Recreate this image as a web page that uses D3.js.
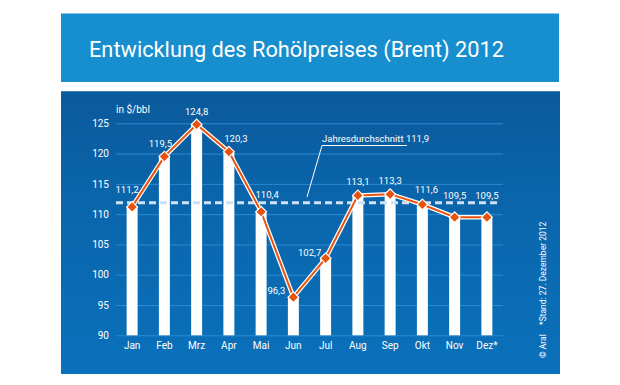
<!DOCTYPE html>
<html>
<head>
<meta charset="utf-8">
<script src="https://cdn.jsdelivr.net/npm/d3@7"></script>
<style>
  body { margin: 0; background: #fff; }
  text { font-family: "Roboto", "Liberation Sans", sans-serif; }
</style>
</head>
<body>
<script>
// chart data
var months = ["Jan", "Feb", "Mrz", "Apr", "Mai", "Jun", "Jul", "Aug", "Sep", "Okt", "Nov", "Dez*"];
var prices = [111.2, 119.5, 124.8, 120.3, 110.4, 96.3, 102.7, 113.1, 113.3, 111.6, 109.5, 109.5];
var yearAverage = 111.9;
var yTicks = [90, 95, 100, 105, 110, 115, 120, 125];

var w = 620, h = 385;

var svg = d3.select("body")
    .append("svg")
    .attr("width", w)
    .attr("height", h);

var defs = svg.append("defs");
var grad = defs.append("linearGradient")
    .attr("id", "panelGrad")
    .attr("x1", 0).attr("y1", 0)
    .attr("x2", 0).attr("y2", 1);
grad.append("stop").attr("offset", "0%").attr("stop-color", "#0b5a9b");
grad.append("stop").attr("offset", "45%").attr("stop-color", "#0a67ad");
grad.append("stop").attr("offset", "100%").attr("stop-color", "#0a71bb");

//title banner
svg.append("rect")
    .attr("x", 61).attr("y", 13)
    .attr("width", 498).attr("height", 69)
    .style("fill", "#178ecd");
svg.append("line")
    .attr("x1", 61).attr("x2", 559)
    .attr("y1", 13.5).attr("y2", 13.5)
    .style("stroke", "#8cc4e6");
svg.append("text")
    .attr("x", 89).attr("y", 57)
    .attr("textLength", 415)
    .attr("lengthAdjust", "spacingAndGlyphs")
    .style("font-size", "22px")
    .style("fill", "#fff")
    .text("Entwicklung des Rohölpreises (Brent) 2012");

//chart panel
svg.append("rect")
    .attr("x", 61).attr("y", 91)
    .attr("width", 499).attr("height", 283)
    .style("fill", "url(#panelGrad)");
svg.append("line")
    .attr("x1", 61).attr("x2", 560)
    .attr("y1", 91.5).attr("y2", 91.5)
    .style("stroke", "#3d84bf");

//scales
var x = d3.scaleBand()
    .domain(months)
    .range([116, 503])
    .paddingInner(0.66)
    .paddingOuter(0.33);

var y = d3.scaleLinear()
    .domain([90, 125])
    .range([335.3, 123.3]);

//gridlines
svg.append("g")
    .selectAll("line")
    .data(yTicks)
    .enter()
    .append("line")
    .attr("x1", 116).attr("x2", 503)
    .attr("y1", function(d){ return y(d) + 0.5; })
    .attr("y2", function(d){ return y(d) + 0.5; })
    .style("stroke", "#2a8ad2")
    .style("stroke-width", 1);

//y axis labels
var yAxis = d3.axisLeft(y).tickValues(yTicks).tickSize(0).tickPadding(0);
var yg = svg.append("g")
    .attr("transform", "translate(109,0)")
    .call(yAxis);
yg.select(".domain").remove();
yg.selectAll("text")
    .style("fill", "#fff")
    .style("font-size", "10px")
    .style("font-family", "Roboto, sans-serif");

svg.append("text")
    .attr("x", 116).attr("y", 113)
    .style("fill", "#fff")
    .style("font-size", "10px")
    .text("in $/bbl");

//bars
svg.append("g")
    .selectAll("rect")
    .data(prices)
    .enter()
    .append("rect")
    .attr("x", function(d, i){ return x(months[i]); })
    .attr("width", x.bandwidth())
    .attr("y", function(d){ return y(d); })
    .attr("height", function(d){ return y(90) - y(d); })
    .style("fill", "#fff");

//x axis labels
var xAxis = d3.axisBottom(x).tickSize(0).tickPadding(0);
var xg = svg.append("g")
    .attr("transform", "translate(0,342)")
    .call(xAxis);
xg.select(".domain").remove();
xg.selectAll("text")
    .style("fill", "#fff")
    .style("font-size", "10px")
    .style("font-family", "Roboto, sans-serif");

//average dashed line
svg.append("line")
    .attr("x1", 116).attr("x2", 499)
    .attr("y1", y(yearAverage)).attr("y2", y(yearAverage))
    .style("stroke", "#cfe2f4")
    .style("stroke-width", 3)
    .style("stroke-dasharray", "7,4");

//average annotation
svg.append("text")
    .attr("x", 322).attr("y", 142)
    .style("fill", "#fff")
    .style("font-size", "9.5px")
    .text("Jahresdurchschnitt 111,9");
svg.append("polyline")
    .attr("points", "407,145.5 322,145.5 307,197")
    .style("fill", "none")
    .style("stroke", "#fff")
    .style("stroke-width", 1);

//price line (white outline underneath)
var line = d3.line()
    .x(function(d, i){ return x(months[i]) + x.bandwidth() / 2; })
    .y(function(d){ return y(d); });

svg.append("path")
    .datum(prices)
    .attr("d", line)
    .style("fill", "none")
    .style("stroke", "#fff")
    .style("stroke-width", 4.5)
    .style("stroke-linejoin", "round");
svg.append("path")
    .datum(prices)
    .attr("d", line)
    .style("fill", "none")
    .style("stroke", "#e8520e")
    .style("stroke-width", 2)
    .style("stroke-linejoin", "round");

//diamond markers
svg.append("g")
    .selectAll("path")
    .data(prices)
    .enter()
    .append("path")
    .attr("d", d3.symbol().type(d3.symbolSquare).size(58))
    .attr("transform", function(d, i){
        return "translate(" + (x(months[i]) + x.bandwidth() / 2) + "," + y(d) + ") rotate(45)";
    })
    .style("fill", "#e8520e")
    .style("stroke", "#fff")
    .style("stroke-width", 1.2);

//value labels, nudged away from the line where needed
var labelNudge = {
    "Jan": [-5, -14], "Feb": [-4, -10], "Apr": [7, -10], "Mai": [6, -14],
    "Okt": [4, -11], "Nov": [0, -18], "Dez*": [0, -18],
    "Jun": [-17, -3], "Jul": [-16, -2]
};
svg.append("g")
    .selectAll("text")
    .data(prices)
    .enter()
    .append("text")
    .attr("x", function(d, i){
        var n = labelNudge[months[i]] || [0, -10];
        return x(months[i]) + x.bandwidth() / 2 + n[0];
    })
    .attr("y", function(d, i){
        var n = labelNudge[months[i]] || [0, -10];
        return y(d) + n[1];
    })
    .attr("text-anchor", "middle")
    .style("fill", "#fff")
    .style("font-size", "9.5px")
    .text(function(d){ return d3.format(".1f")(d).replace(".", ","); });

//source note
svg.append("text")
    .attr("transform", "translate(546,358) rotate(-90)")
    .style("fill", "#fff")
    .style("font-size", "8.5px")
    .text("© Aral");
svg.append("text")
    .attr("transform", "translate(546,325) rotate(-90)")
    .style("fill", "#fff")
    .style("font-size", "8.5px")
    .text("*Stand: 27. Dezember 2012");
</script>
</body>
</html>
